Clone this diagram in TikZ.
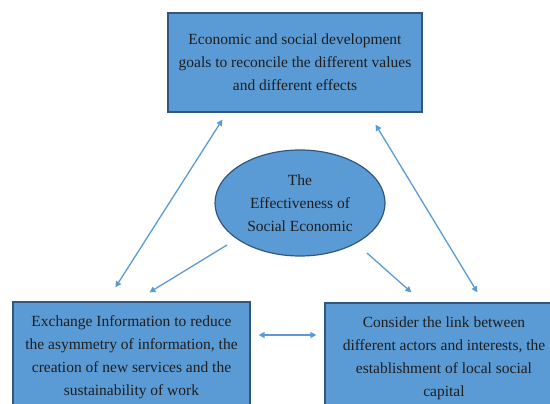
\documentclass[tikz,border=0pt]{standalone}
\usepackage{fontspec}
\setmainfont{Liberation Serif}
\usetikzlibrary{arrows.meta,shapes.geometric}
\definecolor{boxblue}{RGB}{91,155,213}
\definecolor{edgeblue}{RGB}{50,86,126}
\definecolor{txt}{RGB}{30,30,30}
\begin{document}
\begin{tikzpicture}[x=1pt,y=-1pt,
	blk/.style={draw=edgeblue,line width=1.2pt,fill=boxblue,text=txt,align=center,
		font=\fontsize{15.5}{23}\selectfont,inner sep=0pt},
	lnk/.style={boxblue,line width=1.3pt,{Triangle[length=6pt,width=6pt]}-{Triangle[length=6pt,width=6pt]}},
	one/.style={boxblue,line width=1.3pt,-{Triangle[length=6pt,width=6pt]}}]
	\useasboundingbox (0,0) rectangle (550,404);
	\clip (0,0) rectangle (550,404);
	% the three boxes and the ellipse
	\node[blk,minimum width=254pt,minimum height=99pt] (goals) at (295,62.5)
		{Economic and social development\\goals to reconcile the different values\\and different effects};
	\node[blk,ellipse,minimum width=170pt,minimum height=106pt] (eff) at (300,203)
		{The\\Effectiveness of\\Social Economic};
	\node[blk,minimum width=237pt,minimum height=110pt] (info) at (131.5,357)
		{Exchange Information to reduce\\the asymmetry of information, the\\creation of new services and the\\sustainability of work};
	\node[blk,minimum width=238pt,minimum height=110pt] (link) at (444,358)
		{Consider the link between\\different actors and interests, the\\establishment of local social\\capital};
	% arrows
	\draw[lnk] ([xshift=55pt,yshift=-7pt]goals.south west) -- ([xshift=103pt,yshift=14pt]info.north west);
	\draw[lnk] ([xshift=-47pt,yshift=-12pt]goals.south east) -- ([xshift=153pt,yshift=10pt]link.north west);
	\draw[one] ([xshift=-73pt,yshift=-42pt]eff.center) -- ([xshift=137pt,yshift=9pt]info.north west);
	\draw[one] ([xshift=67pt,yshift=-50pt]eff.center) -- ([xshift=87pt,yshift=10pt]link.north west);
	\draw[lnk] ([xshift=8pt]info.east |- 0,335) -- ([xshift=-8pt]link.west |- 0,335);
\end{tikzpicture}
\end{document}
